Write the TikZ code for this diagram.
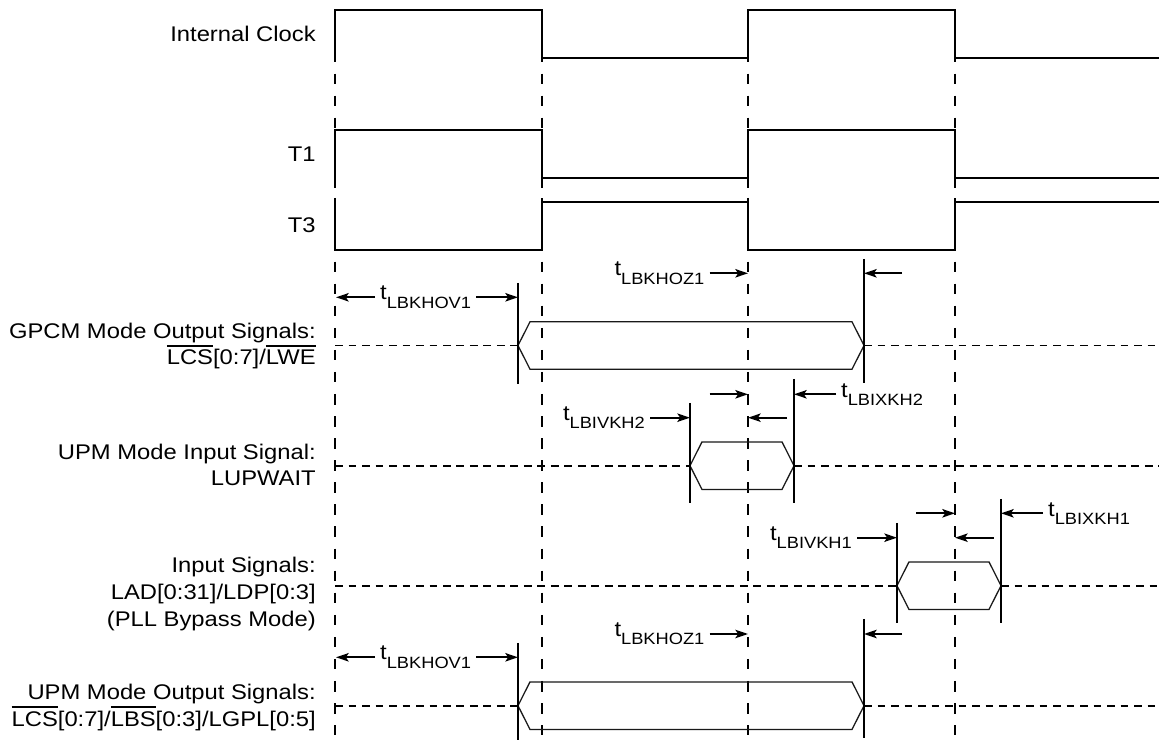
\documentclass[tikz,border=0pt]{standalone}
\usepackage{fontspec}
\setmainfont[FakeStretch=1.12]{Liberation Sans}
\usetikzlibrary{arrows.meta}

% overlined (active low) signal name
\newcommand\ovl[1]{\leavevmode\setbox0=\hbox{#1}\rlap{\rule[\dimexpr\ht0+2.6pt\relax]{\wd0}{1.3pt}}\box0}
% timing parameter t with lowered subscript
\newcommand\tsub[1]{t\raisebox{-5.9pt}{\fontsize{11.6pt}{12pt}\selectfont #1}}

\begin{document}
\begin{tikzpicture}[x=0.025cm,y=-0.025cm,
  wave/.style={line width=1.4pt},
  grid/.style={line width=1.4pt, dash pattern=on 7.5pt off 8.2pt, dash phase=7.5pt},
  level/.style={line width=1.3pt, dash pattern=on 5.4pt off 4.2pt},
  bus/.style={line width=0.9pt, draw=black!90},
  edgemark/.style={line width=1.3pt},
  tarrow/.style={line width=1.2pt, -{Stealth[length=9pt,width=6pt,inset=2pt]}},
  sig/.style={font=\fontsize{15.1pt}{19.1pt}\selectfont, anchor=base east, align=right, inner sep=0pt},
  tlbl/.style={font=\fontsize{15.1pt}{19.1pt}\selectfont, inner xsep=3.5pt, inner ysep=0pt}]

  \useasboundingbox (0,0) rectangle (1159,740);

  % --------------------
  % Clock edge guides
  % --------------------
  \foreach \x in {335,542,748,955} {
    \draw[grid] (\x,62) -- (\x,130);
    \draw[grid] (\x,250) -- (\x,735);
  }

  % --------------------
  % Internal Clock and T1
  % --------------------
  \foreach \hi/\lo/\bt in {10/57.7/62, 130/177.7/188} {
    \draw[wave] (335,\bt) -- (335,\hi) -- (542,\hi) -- (542,\bt);
    \draw[wave] (542,\lo) -- (748,\lo);
    \draw[wave] (748,\bt) -- (748,\hi) -- (955,\hi) -- (955,\bt);
    \draw[wave] (955,\lo) -- (1159,\lo);
  }

  % T3 (inverted)
  \draw[wave] (335,198) -- (335,250) -- (542,250) -- (542,198);
  \draw[wave] (542,201.7) -- (748,201.7);
  \draw[wave] (748,198) -- (748,250) -- (955,250) -- (955,198);
  \draw[wave] (955,201.7) -- (1159,201.7);

  % Signal names (base = last line)
  \node[sig] (clk) at (316,41.7) {Internal Clock};
  \node[sig] (tone) at (316,161.7) {T1};
  \node[sig] (tthree) at (316,233) {T3};
  \node[sig] (gpcm) at (316,365) {GPCM Mode Output Signals:\\\ovl{LCS}[0:7]/\ovl{LWE}};
  \node[sig] (upmin) at (316,486) {UPM Mode Input Signal:\\LUPWAIT};
  \node[sig] (lad) at (316,626.7) {Input Signals:\\LAD[0:31]/LDP[0:3]\\(PLL Bypass Mode)};
  \node[sig] (upmout) at (316,726.7) {UPM Mode Output Signals:\\\ovl{LCS}[0:7]/\ovl{LBS}[0:3]/LGPL[0:5]};

  % --------------------
  % Bus levels and valid windows
  % --------------------
  \draw[level] (335,345.5) -- (518,345.5);
  \draw[level] (864,345.5) -- (1159,345.5);
  \draw[bus] (518,345.5) -- (530,321.8) -- (852,321.8) -- (864,345.5) -- (852,369.2) -- (530,369.2) -- cycle;

  \draw[level] (335,465.7) -- (690,465.7);
  \draw[level] (794,465.7) -- (1159,465.7);
  \draw[bus] (690,465.7) -- (702,441.9) -- (782,441.9) -- (794,465.7) -- (782,489.5) -- (702,489.5) -- cycle;

  \draw[level] (335,585.7) -- (897,585.7);
  \draw[level] (1001,585.7) -- (1159,585.7);
  \draw[bus] (897,585.7) -- (909,561.9) -- (989,561.9) -- (1001,585.7) -- (989,609.5) -- (909,609.5) -- cycle;

  \draw[level] (335,705.7) -- (518,705.7);
  \draw[level] (864,705.7) -- (1159,705.7);
  \draw[bus] (518,705.7) -- (530,681.9) -- (852,681.9) -- (864,705.7) -- (852,729.5) -- (530,729.5) -- cycle;

  % Window edge markers
  \draw[edgemark] (518,283) -- (518,384);
  \draw[edgemark] (864,259) -- (864,383);
  \draw[edgemark] (690,403) -- (690,503);
  \draw[edgemark] (794,379) -- (794,503);
  \draw[edgemark] (897,523) -- (897,623);
  \draw[edgemark] (1001,499) -- (1001,623);
  \draw[edgemark] (864,619) -- (864,738);
  \draw[edgemark] (518,643) -- (518,740);

  % --------------------
  % Timing parameters
  % --------------------
  \node[tlbl, anchor=west] (hovA) at (375,297.3) {\tsub{LBKHOV1}};
  \draw[tarrow] (hovA.west) -- (336,297.3);
  \draw[tarrow] (hovA.east) -- (518,297.3);

  \node[tlbl, anchor=east] (hozA) at (709.6,273.3) {\tsub{LBKHOZ1}};
  \draw[tarrow] (hozA.east) -- (748,273.3);
  \draw[tarrow] (902,273.3) -- (864,273.3);

  \node[tlbl, anchor=west] (ixkB) at (836,394.3) {\tsub{LBIXKH2}};
  \draw[tarrow] (709.6,394.3) -- (748,394.3);
  \draw[tarrow] (ixkB.west) -- (794,394.3);

  \node[tlbl, anchor=east] (ivkB) at (650,417.7) {\tsub{LBIVKH2}};
  \draw[tarrow] (ivkB.east) -- (690,417.7);
  \draw[tarrow] (787,417.7) -- (748,417.7);

  \node[tlbl, anchor=west] (ixkA) at (1043,513.3) {\tsub{LBIXKH1}};
  \draw[tarrow] (916.3,513.3) -- (955,513.3);
  \draw[tarrow] (ixkA.west) -- (1001,513.3);

  \node[tlbl, anchor=east] (ivkA) at (857,537.7) {\tsub{LBIVKH1}};
  \draw[tarrow] (ivkA.east) -- (897,537.7);
  \draw[tarrow] (993.7,537.7) -- (955,537.7);

  \node[tlbl, anchor=east] (hozB) at (709.6,634) {\tsub{LBKHOZ1}};
  \draw[tarrow] (hozB.east) -- (748,634);
  \draw[tarrow] (902,634) -- (864,634);

  \node[tlbl, anchor=west] (hovB) at (375,657.3) {\tsub{LBKHOV1}};
  \draw[tarrow] (hovB.west) -- (336,657.3);
  \draw[tarrow] (hovB.east) -- (518,657.3);

\end{tikzpicture}
\end{document}
